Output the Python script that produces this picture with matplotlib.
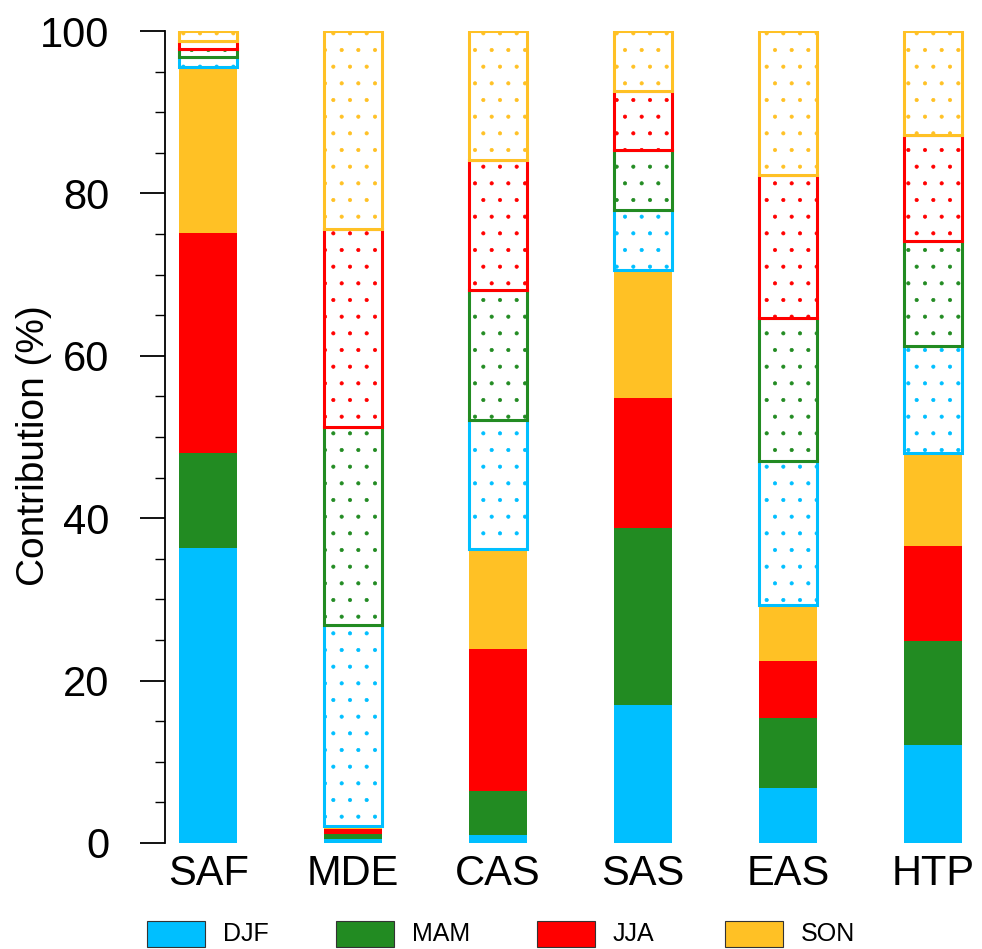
import matplotlib
matplotlib.use("Agg")
import matplotlib.pyplot as plt
import matplotlib.patches as mpatches
import numpy as np

plt.rcParams['font.family'] = ['Liberation Sans', 'DejaVu Sans']
plt.rcParams['hatch.linewidth'] = 0.5

regions = ['SAF', 'MDE', 'CAS', 'SAS', 'EAS', 'HTP']
seasons = ['DJF', 'MAM', 'JJA', 'SON']
colors = ['#00BFFF', '#228B22', '#FF0000', '#FFC125']

# solid part (first four segments), in %
solid_djf = [36.3, 0.5, 1.0, 17.0, 6.8, 12.1]
solid_mam = [11.7, 0.6, 5.4, 21.8, 8.6, 12.8]
solid_jja = [27.1, 0.6, 17.5, 16.0, 7.0, 11.7]
solid_son = [20.5, 0.4, 12.3, 15.8, 6.9, 11.4]
# dotted part (last four segments), in %
dot_djf = [1.2, 24.7, 15.9, 7.4, 17.7, 13.2]
dot_mam = [1.0, 24.4, 16.0, 7.3, 17.7, 12.9]
dot_jja = [1.0, 24.4, 16.0, 7.3, 17.6, 13.1]
dot_son = [1.2, 24.4, 15.9, 7.4, 17.7, 12.8]

solid = [solid_djf, solid_mam, solid_jja, solid_son]
dotted = [dot_djf, dot_mam, dot_jja, dot_son]

fig = plt.figure(figsize=(9.82, 9.49), dpi=100)
ax = fig.add_axes([0.168, 0.1117, 0.830, 0.8556])

x = np.arange(len(regions))
w = 0.4
bottom = np.zeros(len(regions))

for vals, c in zip(solid, colors):
    ax.bar(x, vals, w, bottom=bottom, color=c, linewidth=0)
    bottom += np.array(vals)

for vals, c in zip(dotted, colors):
    ax.bar(x, vals, w, bottom=bottom, facecolor='white', edgecolor=c,
           linewidth=2.2, hatch='.')
    bottom += np.array(vals)

ax.set_xlim(-0.297, 5.324)
ax.set_ylim(0, 100)
for s in ['top', 'right', 'bottom']:
    ax.spines[s].set_visible(False)
ax.spines['left'].set_linewidth(1.3)

ax.set_yticks([0, 20, 40, 60, 80, 100])
ax.set_yticks(np.arange(0, 101, 5), minor=True)
ax.tick_params(axis='y', which='major', length=18, width=1.3, pad=22, labelsize=30)
ax.tick_params(axis='y', which='minor', length=7, width=1.0)
ax.set_xticks(x)
ax.set_xticklabels(regions)
ax.tick_params(axis='x', length=0, pad=8, labelsize=30)
ax.set_ylabel('Contribution (%)', fontsize=28)
ax.yaxis.set_label_coords(-0.139, 0.49)

# legend row at the bottom
box_left = [147, 336, 537, 725]
for bx, c, s in zip(box_left, colors, seasons):
    fig.add_artist(mpatches.Rectangle((bx / 982, 2 / 949), 58 / 982, 26 / 949,
                                      transform=fig.transFigure, facecolor=c,
                                      edgecolor='#333333', linewidth=0.8))
    fig.text((bx + 76) / 982, 15 / 949, s, fontsize=18, ha='left', va='center')

fig.savefig('out.png', dpi=100)
